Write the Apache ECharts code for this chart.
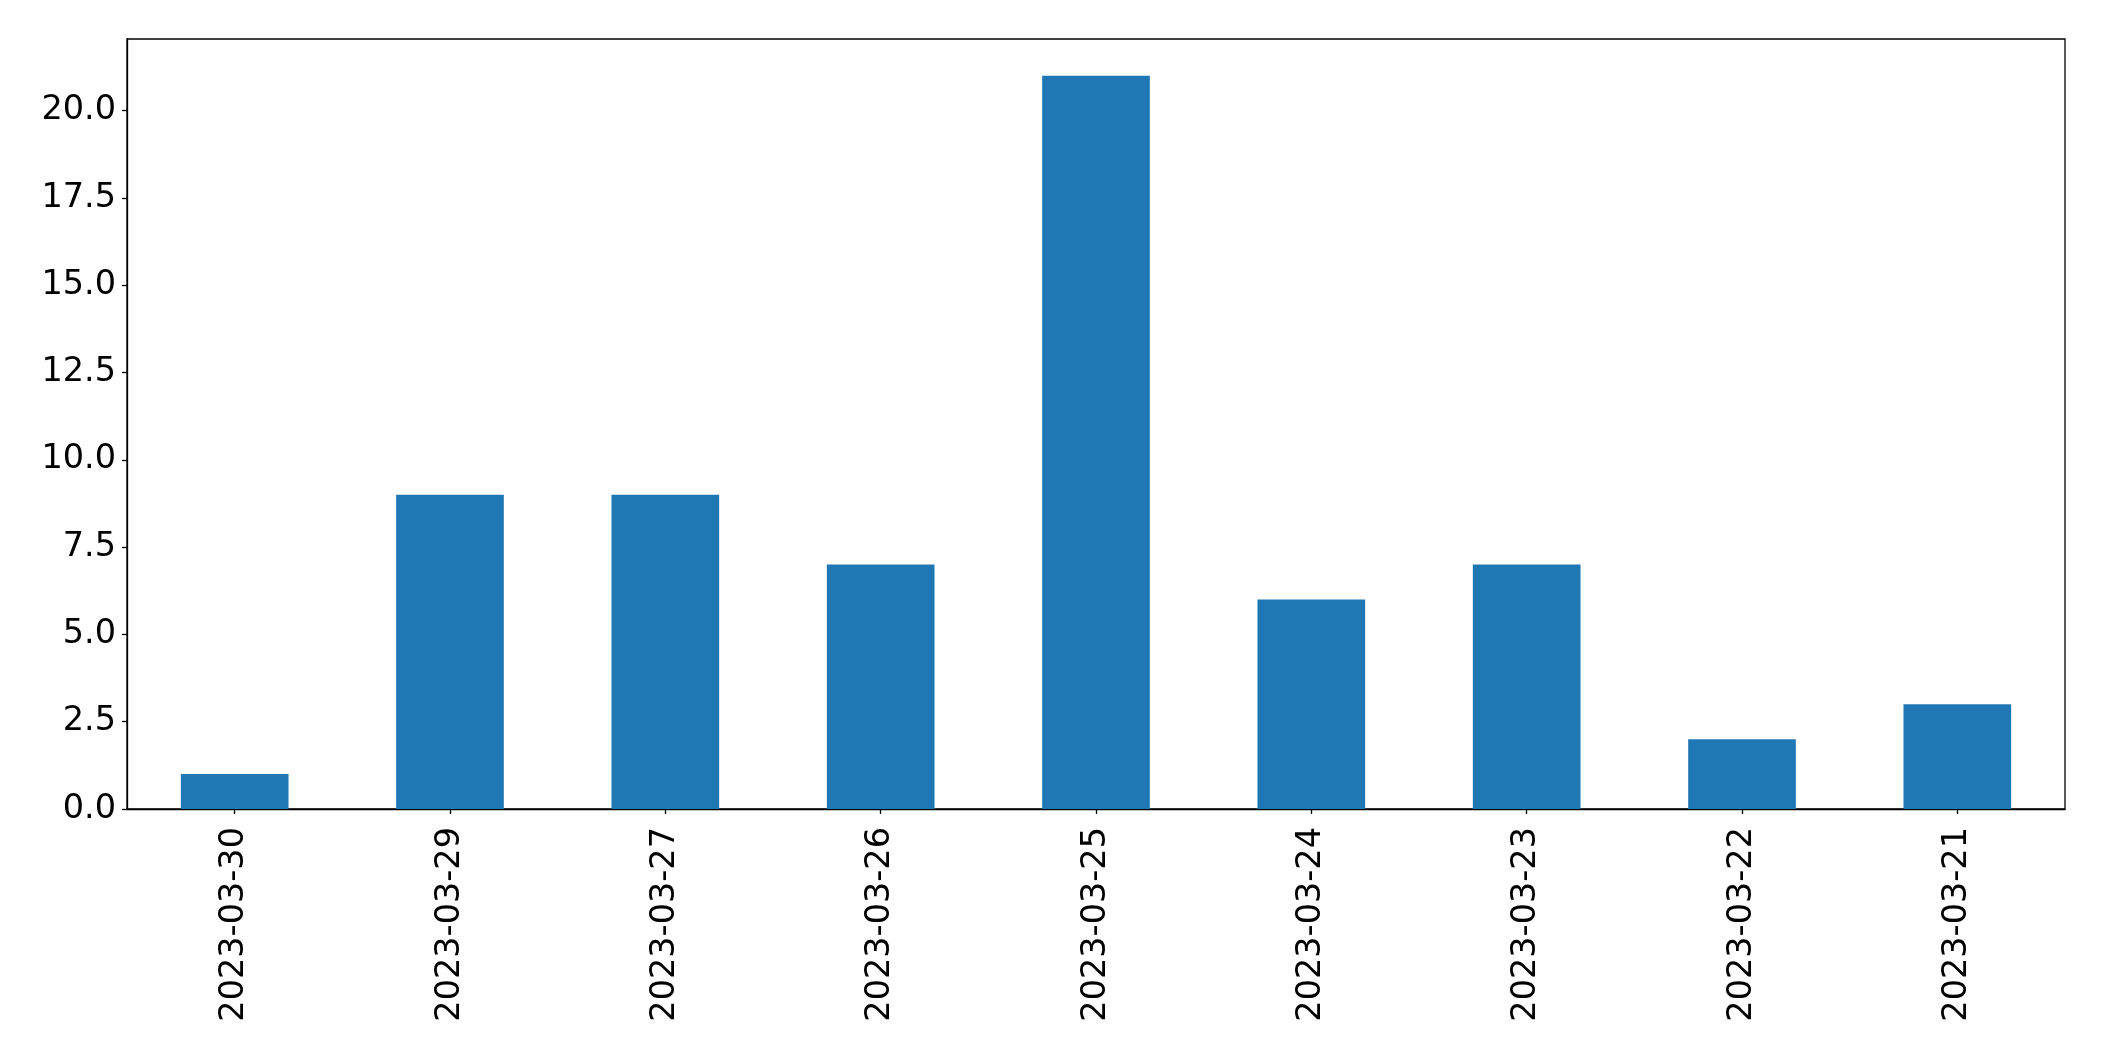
<!DOCTYPE html>
<html>
<head>
<meta charset="utf-8">
<script src="https://cdn.jsdelivr.net/npm/echarts@6/dist/echarts.min.js"></script>
<style>
html,body{margin:0;padding:0;background:#fff;}
#chart{width:2104px;height:1061px;}
</style>
</head>
<body>
<div id="chart"></div>
<script>
const categories = ['2023-03-30','2023-03-29','2023-03-27','2023-03-26','2023-03-25','2023-03-24','2023-03-23','2023-03-22','2023-03-21'];
const values = [1, 9, 9, 7, 21, 6, 7, 2, 3];
const yTicks = [0, 2.5, 5, 7.5, 10, 12.5, 15, 17.5, 20];

const chart = echarts.init(document.getElementById('chart'), null, {renderer:'canvas'});
const font = 'DejaVu Sans';
chart.setOption({
  animation: false,
  backgroundColor: '#ffffff',
  grid: {left:127, right:39, top:39, bottom:252, show:true, borderColor:'#000', borderWidth:1.3, backgroundColor:'transparent'},
  xAxis: {
    type: 'category',
    data: categories,
    axisLine: {show:true, lineStyle:{color:'#000', width:1.3}},
    axisTick: {show:true, alignWithLabel:true, length:5, lineStyle:{color:'#000', width:1.3}},
    axisLabel: {rotate:90, fontSize:33.5, fontFamily:font, color:'#000', margin:18, interval:0}
  },
  yAxis: {
    type: 'value',
    min: 0,
    max: 22.05,
    interval: 2.5,
    splitLine: {show:false},
    axisLine: {show:true, lineStyle:{color:'#000', width:1.3}},
    axisTick: {show:true, length:5, lineStyle:{color:'#000', width:1.3}},
    axisLabel: {
      fontSize:33.5, fontFamily:font, color:'#000', margin:11, showMaxLabel:false,
      formatter: function(v){ return yTicks.indexOf(v) >= 0 ? v.toFixed(1) : ''; }
    }
  },
  series: [{
    type: 'bar',
    data: values,
    barWidth: '50%',
    itemStyle: {color:'#1f77b4'}
  }]
});
</script>
</body>
</html>
